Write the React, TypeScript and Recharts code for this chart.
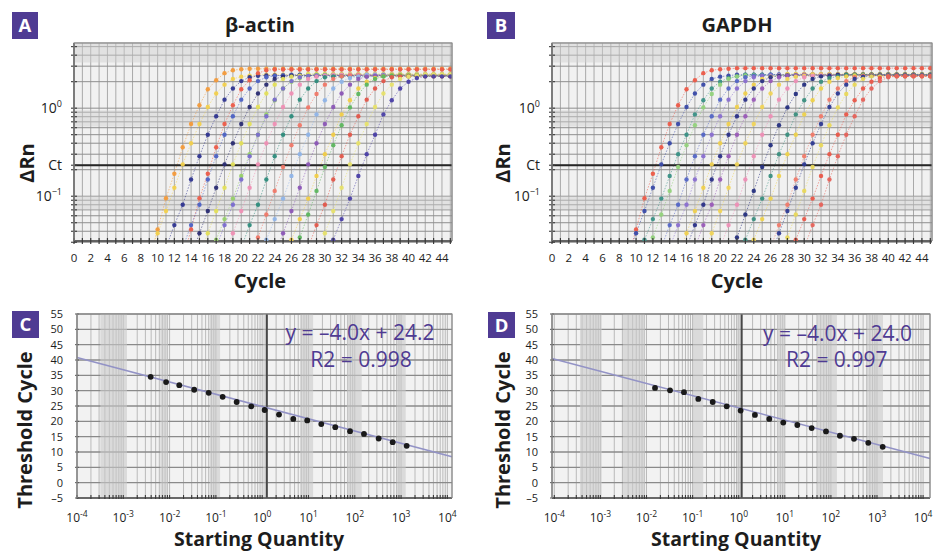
import React from 'react';
import {
  LineChart, Line, XAxis, YAxis, CartesianGrid, ReferenceLine, ReferenceArea,
  ScatterChart, Scatter,
} from 'recharts';

const FONT = "'Open Sans', 'Noto Sans', 'DejaVu Sans', sans-serif";
const INK = '#1d1d1d';
const PURPLE = '#4f3b93';

// ---------------- Panels A & B : amplification plots ----------------
const CYCLES = Array.from({ length: 46 }, (_, i) => i);
const RN_TICKS = [0.03, 0.04, 0.05, 0.06, 0.07, 0.08, 0.09, 0.1, 0.2, 0.225, 0.3, 0.4, 0.5, 0.6, 0.7, 0.8, 0.9, 1, 2, 3, 4, 5];
const CT_THRESHOLD = 0.225;

// ΔRn read cycle-by-cycle from representative curves (first visible dot onward),
// plus the value of the cycle before it (below the visible range, so the line enters from the bottom edge)
const PROFILE_FAST = [0.042, 0.095, 0.18, 0.36, 0.66, 1.08, 1.64, 2.08, 2.5, 2.7, 2.77, 2.8];
const PROFILE_MID = [0.047, 0.08, 0.155, 0.285, 0.5, 0.81, 1.25, 1.67, 2.03, 2.25, 2.33, 2.36];
const PROFILE_LATE = [0.032, 0.055, 0.094, 0.17, 0.3, 0.5, 0.85, 1.23, 1.67, 2.0, 2.2, 2.3];
const PROFILE_EARLY = [0.038, 0.068, 0.125, 0.23, 0.4, 0.66, 1.03, 1.47, 1.85, 2.15, 2.28, 2.34];
const PROFILE_GAIN = [0.034, 0.062, 0.115, 0.215, 0.38, 0.64, 1.02, 1.45, 1.85, 2.15, 2.3, 2.35];
const PROFILES: Record<string, number[]> = { F: PROFILE_FAST, M: PROFILE_MID, L: PROFILE_LATE, E: PROFILE_EARLY, G: PROFILE_GAIN };
const PRE_VALUE: Record<string, number> = { F: 0.019, M: 0.026, L: 0.018, E: 0.021, G: 0.019 };

// β-actin curves: first visible cycle, curve shape, plateau ΔRn
const ACTIN_START = [10, 10, 12, 14, 14, 15, 16, 17, 18, 19, 21, 22, 23, 25, 26, 27, 29, 30, 31];
const ACTIN_SHAPE = ['F', 'E', 'M', 'F', 'M', 'E', 'E', 'L', 'M', 'E', 'M', 'G', 'L', 'E', 'L', 'G', 'M', 'E', 'L'];
const ACTIN_PLATEAU = [2.8, 2.4, 2.35, 2.75, 2.4, 2.35, 2.45, 2.4, 2.35, 2.4, 2.3, 2.35, 2.4, 2.35, 2.4, 2.35, 2.3, 2.4, 2.3];
const ACTIN_COLORS = ['#f39a3a', '#f2d04c', '#2f3590', '#ec5c4a', '#4d62c4', '#2a2c72', '#e3df58', '#97d06a', '#7a6ccf', '#ef8fb4', '#2e8c7c', '#f07868', '#8fb4e8', '#8b56b6', '#f1cd48', '#5db65e', '#e1574b', '#e7e26a', '#4a3fa6'];

// GAPDH curves
const GAPDH_START = [10, 10, 11, 12, 14, 15, 16, 17, 18, 19, 21, 22, 23, 24, 27, 27, 28, 29, 31];
const GAPDH_SHAPE = ['F', 'E', 'L', 'G', 'M', 'M', 'E', 'M', 'M', 'E', 'M', 'G', 'L', 'L', 'M', 'E', 'G', 'L', 'M'];
const GAPDH_PLATEAU = [2.85, 2.4, 2.4, 2.35, 2.4, 2.4, 2.45, 2.35, 2.4, 2.4, 2.35, 2.4, 2.4, 2.35, 2.35, 2.35, 2.3, 2.3, 2.3];
const GAPDH_COLORS = ['#ec5a48', '#3a4aa8', '#3a9186', '#94d27c', '#5466c6', '#8a6fd0', '#efd04e', '#2c3288', '#9a5bb8', '#f0d457', '#ee8fb6', '#263080', '#3b8f80', '#eed24c', '#f07a6a', '#2e3a92', '#e9d85a', '#e9584a', '#e6625a'];

// ---------------- Panels C & D : standard curves ----------------
const ACTIN_QTY = [0.0039, 0.0084, 0.0162, 0.034, 0.070, 0.140, 0.281, 0.58, 1.13, 2.31, 4.7, 9.4, 18.9, 37.9, 79, 158, 328, 659, 1321];
const ACTIN_CT = [34.5, 32.8, 31.8, 30.3, 29.3, 28.0, 26.3, 24.9, 23.7, 22.2, 20.8, 20.3, 19.1, 18.1, 16.8, 15.9, 14.4, 13.2, 12.0];
const GAPDH_QTY = [0.0153, 0.0324, 0.065, 0.133, 0.273, 0.55, 1.10, 2.25, 4.61, 9.27, 18.7, 38.3, 78.3, 157, 317, 647, 1330];
const GAPDH_CT = [30.9, 30.1, 29.5, 27.3, 26.3, 24.9, 23.5, 22.1, 20.8, 19.6, 18.8, 17.8, 16.7, 15.3, 14.3, 13.0, 11.7];

const ACTIN_FIT = [{ x: 0.0001, y: 40.8 }, { x: 12589, y: 8.45 }];
const GAPDH_FIT = [{ x: 0.0000891, y: 40.5 }, { x: 14125, y: 7.9 }];
const ACTIN_CUT = 1.26;
const GAPDH_CUT = 1.16;

const CT_TICKS = [-5, 0, 5, 10, 15, 20, 25, 30, 35, 40, 45, 50, 55];
const DECADES = [-4, -3, -2, -1, 0, 1, 2, 3];
const MULTS = [1, 2, 3, 4, 5, 6, 7, 8, 9];
const Q_TICKS = [...DECADES.flatMap((d) => MULTS.map((m) => m * Math.pow(10, d))), 10000];

const ACTIN_BANDS = [[0.00032, 0.0012], [0.0063, 0.0093], [0.074, 0.123], [1.05, 1.32], [6.6, 12.6], [68, 141], [794, 1259]];
const GAPDH_BANDS = [[0.00036, 0.00107], [0.0031, 0.0093], [0.102, 0.17], [0.91, 1.12], [6.8, 10], [50, 135], [603, 1349]];
const RN_BANDS = [[0.07, 0.1], [0.62, 0.95], [3.3, 5.5]];

function buildRows(starts: number[], shapes: string[], plateaus: number[]) {
  return CYCLES.map((c) => {
    const row: Record<string, number | null> = { cycle: c };
    starts.forEach((s, i) => {
      const prof = PROFILES[shapes[i]];
      const k = c - s;
      let v: number | null = null;
      if (k === -1) v = PRE_VALUE[shapes[i]];
      else if (k >= 0) v = k < prof.length ? Math.min(prof[k], plateaus[i]) : plateaus[i];
      row[`s${i}`] = v;
    });
    return row;
  });
}

const ACTIN_ROWS = buildRows(ACTIN_START, ACTIN_SHAPE, ACTIN_PLATEAU);
const GAPDH_ROWS = buildRows(GAPDH_START, GAPDH_SHAPE, GAPDH_PLATEAU);

const sup = (base: string, exp: string, size: number, supSize: number) => (
  <>
    {base}
    <tspan dy={-size * 0.42} fontSize={supSize}>{exp}</tspan>
  </>
);

function AmpChart({ rows, colors, width, marginLeft, marginRight }: any) {
  const plotLeft = marginLeft + 60;
  const plotBottom = 241;
  const cycleTick = (p: any) => {
    const v = p.payload.value;
    return (
      <g>
        <line x1={p.x} x2={p.x} y1={plotBottom - 3} y2={plotBottom + 3} stroke="#3a3a3a" strokeWidth={1.2} />
        {v % 2 === 0 && v <= 44 ? (
          <text x={p.x} y={plotBottom + 20.5} textAnchor="middle" fontSize={11.5} fill={INK} fontFamily={FONT}>{v}</text>
        ) : null}
      </g>
    );
  };
  const rnTick = (p: any) => {
    const v = p.payload.value;
    let label: any = null;
    if (v === 1) label = sup('10', '0', 14, 9);
    else if (v === 0.1) label = sup('10', '−1', 14, 9);
    else if (v === CT_THRESHOLD) label = 'Ct';
    return (
      <g>
        <line x1={plotLeft - 3} x2={plotLeft + 3} y1={p.y} y2={p.y} stroke="#3a3a3a" strokeWidth={1.1} />
        {label ? (
          <text x={plotLeft - 12} y={p.y + 5} textAnchor="end" fontSize={14} fill={INK} fontFamily={FONT}>{label}</text>
        ) : null}
      </g>
    );
  };
  return (
    <LineChart width={width} height={290} data={rows} margin={{ top: 43, right: marginRight, bottom: 9, left: marginLeft }}>
      <CartesianGrid horizontal={false} fill="#f1f1f1" stroke="#a9a9a9" strokeWidth={1} />
      {RN_BANDS.map(([a, b], i) => (
        <ReferenceArea key={`b${i}`} y1={a} y2={b} fill="#cfcfcf" fillOpacity={0.45} stroke="none" />
      ))}
      <CartesianGrid vertical={false} stroke="#8f8f8f" strokeWidth={1} />
      <XAxis type="number" dataKey="cycle" domain={[0, 45.2]} ticks={CYCLES} interval={0} allowDataOverflow
        height={40} tickLine={false} axisLine={{ stroke: '#444', strokeWidth: 1.5 }} tick={cycleTick} />
      <YAxis type="number" scale="log" domain={[0.031, 5.5]} ticks={RN_TICKS} interval={0} allowDataOverflow
        width={60} tickLine={false} axisLine={{ stroke: '#444', strokeWidth: 1.5 }} tick={rnTick} />
      {colors.map((c: string, i: number) => (
        <Line key={i} type="linear" dataKey={`s${i}`} stroke={c} strokeOpacity={0.55} strokeWidth={1}
          strokeDasharray="1.5 1.5" dot={{ r: 2.2, fill: c, stroke: 'none', fillOpacity: 0.95 }}
          activeDot={false} connectNulls={false} isAnimationActive={false} />
      ))}
      <ReferenceLine y={CT_THRESHOLD} stroke="#262626" strokeWidth={2} />
    </LineChart>
  );
}

function StdChart({ qty, ct, fit, cut, bands, width, marginLeft, marginRight, domainX }: any) {
  const plotLeft = marginLeft + 60;
  const plotBottom = 208;
  const points = qty.map((q: number, i: number) => ({ qty: q, ct: ct[i] }));
  const qTick = (p: any) => {
    const v = p.payload.value;
    const lg = Math.log10(v);
    const isDecade = Math.abs(lg - Math.round(lg)) < 1e-6;
    const e = Math.round(lg);
    return (
      <g>
        <line x1={p.x} x2={p.x} y1={plotBottom - 3} y2={plotBottom + 1} stroke="#3a3a3a" strokeWidth={1.1} />
        {isDecade ? (
          <text x={p.x} y={plotBottom + 24} textAnchor="middle" fontSize={12} fill={INK} fontFamily={FONT}>
            {sup('10', e < 0 ? `-${-e}` : `${e}`, 12, 8.5)}
          </text>
        ) : null}
      </g>
    );
  };
  const cTick = (p: any) => {
    const v = p.payload.value;
    return (
      <g>
        <line x1={plotLeft - 2} x2={plotLeft + 2} y1={p.y} y2={p.y} stroke="#555" strokeWidth={1} />
        <text x={plotLeft - 14} y={p.y + 4} textAnchor="end" fontSize={11} fill={INK} fontFamily={FONT}>
          {v < 0 ? `–${-v}` : `${v}`}
        </text>
      </g>
    );
  };
  return (
    <ScatterChart width={width} height={262} margin={{ top: 24, right: marginRight, bottom: 24, left: marginLeft }}>
      <CartesianGrid horizontal={false} fill="#f2f2f2" stroke="#b3b3b3" strokeWidth={0.9} />
      {bands.map(([a, b]: number[], i: number) => (
        <ReferenceArea key={`q${i}`} x1={a} x2={b} fill="#c9c9c9" fillOpacity={0.6} stroke="none" />
      ))}
      <CartesianGrid vertical={false} stroke="#8a8a8a" strokeWidth={1.3} />
      <XAxis type="number" dataKey="qty" scale="log" domain={domainX} ticks={Q_TICKS} interval={0} allowDataOverflow
        height={30} tickLine={false} axisLine={{ stroke: '#555', strokeWidth: 1.5 }} tick={qTick} />
      <YAxis type="number" dataKey="ct" domain={[-5, 55]} ticks={CT_TICKS} interval={0} allowDataOverflow
        width={60} tickLine={false} axisLine={{ stroke: '#777', strokeWidth: 1 }} tick={cTick} />
      <ReferenceLine x={cut} stroke="#474747" strokeWidth={2} />
      <ReferenceLine segment={fit} stroke="#9393c6" strokeWidth={1.6} />
      <Scatter data={points} isAnimationActive={false}
        shape={(p: any) => <circle cx={p.cx} cy={p.cy} r={2.9} fill="#1a1a1a" />} />
    </ScatterChart>
  );
}

function Overlay() {
  const box = (x: number, y: number, w: number, h: number, t: string) => (
    <g>
      <rect x={x} y={y} width={w} height={h} fill={PURPLE} />
      <text x={x + w / 2} y={y + h / 2 + 6.5} textAnchor="middle" fontSize={18.5} fontWeight={700} fill="#fff">{t}</text>
    </g>
  );
  const frame = (l: number, t: number, r: number, b: number) => (
    <path d={`M${l},${b} V${t} H${r} V${b}`} fill="none" stroke="#8a8a8a" strokeWidth={1.2} />
  );
  const vlabel = (x: number, y: number, t: string) => (
    <text x={x} y={y} transform={`rotate(-90 ${x} ${y})`} textAnchor="middle" dominantBaseline="central"
      fontSize={20} fontWeight={700} fill={INK}>{t}</text>
  );
  return (
    <svg width={943} height={552} style={{ position: 'absolute', left: 0, top: 0, pointerEvents: 'none' }} fontFamily={FONT}>
      {frame(74, 43, 452, 241)}
      {frame(552, 43, 932, 241)}
      {frame(77, 314, 452, 498)}
      {frame(552, 314, 930, 498)}
      {box(12, 12, 26, 27, 'A')}
      {box(487, 12, 28, 27, 'B')}
      {box(12, 311, 27, 27, 'C')}
      {box(488, 312, 27, 26, 'D')}
      <text x={260} y={32} textAnchor="middle" fontSize={20} fontWeight={700} fill={INK}>β-actin</text>
      <text x={737} y={32} textAnchor="middle" fontSize={20} fontWeight={700} fill={INK}>GAPDH</text>
      <text x={260} y={288} textAnchor="middle" fontSize={20} fontWeight={700} fill={INK}>Cycle</text>
      <text x={737} y={288} textAnchor="middle" fontSize={20} fontWeight={700} fill={INK}>Cycle</text>
      {vlabel(26, 163, 'ΔRn')}
      {vlabel(502, 163, 'ΔRn')}
      {vlabel(24, 430, 'Threshold Cycle')}
      {vlabel(502, 430, 'Threshold Cycle')}
      <text x={259} y={546} textAnchor="middle" fontSize={19.5} fontWeight={700} fill={INK}>Starting Quantity</text>
      <text x={736} y={546} textAnchor="middle" fontSize={19.5} fontWeight={700} fill={INK}>Starting Quantity</text>
      <text x={360} y={340} textAnchor="middle" fontSize={21} fill={PURPLE}>y = –4.0x + 24.2</text>
      <text x={361} y={366.5} textAnchor="middle" fontSize={21} fill={PURPLE}>R2 = 0.998</text>
      <text x={837.5} y={341} textAnchor="middle" fontSize={21} fill={PURPLE}>y = –4.0x + 24.0</text>
      <text x={836.7} y={366.5} textAnchor="middle" fontSize={21} fill={PURPLE}>R2 = 0.997</text>
    </svg>
  );
}

export default function App() {
  return (
    <div style={{ position: 'absolute', left: 0, top: 0, width: 943, height: 552, background: '#fff', overflow: 'hidden', fontFamily: FONT }}>
      <div style={{ position: 'absolute', left: 0, top: 0 }}>
        <AmpChart rows={ACTIN_ROWS} colors={ACTIN_COLORS} width={470} marginLeft={14} marginRight={18} />
      </div>
      <div style={{ position: 'absolute', left: 470, top: 0 }}>
        <AmpChart rows={GAPDH_ROWS} colors={GAPDH_COLORS} width={473} marginLeft={22} marginRight={11} />
      </div>
      <div style={{ position: 'absolute', left: 0, top: 290 }}>
        <StdChart qty={ACTIN_QTY} ct={ACTIN_CT} fit={ACTIN_FIT} cut={ACTIN_CUT} bands={ACTIN_BANDS}
          width={470} marginLeft={17} marginRight={18} domainX={[0.0001, 12589]} />
      </div>
      <div style={{ position: 'absolute', left: 470, top: 290 }}>
        <StdChart qty={GAPDH_QTY} ct={GAPDH_CT} fit={GAPDH_FIT} cut={GAPDH_CUT} bands={GAPDH_BANDS}
          width={473} marginLeft={22} marginRight={13} domainX={[0.0000891, 14125]} />
      </div>
      <Overlay />
    </div>
  );
}
